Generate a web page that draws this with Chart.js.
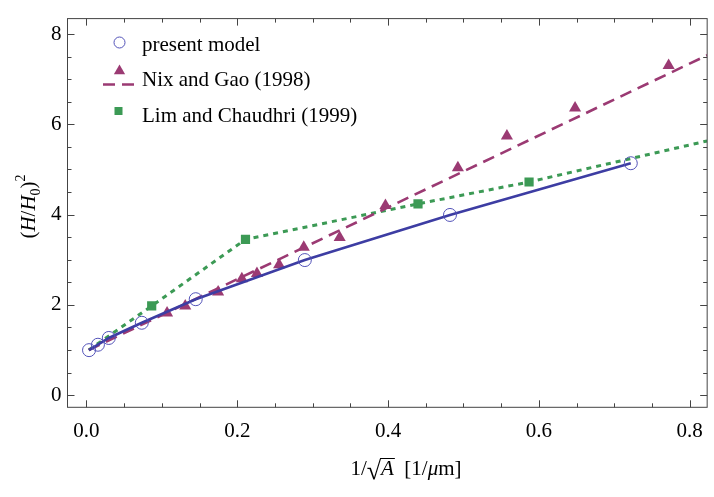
<!DOCTYPE html>
<html>
<head>
<meta charset="utf-8">
<script src="https://cdn.jsdelivr.net/npm/chart.js@4.4.1/dist/chart.umd.min.js"></script>
<style>
  html, body { margin: 0; padding: 0; overflow: hidden; background: #fff; }
  #wrap { width: 715px; height: 497px; }
</style>
</head>
<body>
<div id="wrap"><canvas id="hardnessChart"></canvas></div>
<script>
// values
const presentX = [0.0034, 0.0152, 0.0296, 0.0734, 0.1449, 0.2896, 0.4821, 0.7219];
const presentY = [0.996, 1.116, 1.266, 1.603, 2.125, 2.992, 3.992, 5.138];

const nixX = [0.1069, 0.131, 0.1746, 0.2061, 0.2261, 0.2555, 0.2882, 0.3358, 0.3965, 0.4926, 0.5576, 0.648, 0.7721];
const nixY = [1.818, 1.975, 2.284, 2.576, 2.692, 2.891, 3.278, 3.492, 4.2, 5.038, 5.739, 6.362, 7.306];
const nixFitX = [0.003, 0.8232];
const nixFitY = [1.0, 7.53];

const limX = [0.0865, 0.2109, 0.4397, 0.587];
const limY = [1.975, 3.449, 4.237, 4.722];
const limFitX = [0.003, 0.0865, 0.2109, 0.4397, 0.587, 0.8232];
const limFitY = [1.0, 1.975, 3.449, 4.237, 4.722, 5.632];

const xTicks = [0, 0.2, 0.4, 0.6, 0.8];
const yTicks = [0, 2, 4, 6, 8];

const BLUE = '#3d3da3';
const PURPLE = '#9b3a73';
const GREEN = '#3c9a55';
const SERIF = '"Liberation Serif", "DejaVu Serif", serif';

const pts = (xs, ys) => xs.map((x, i) => ({ x, y: ys[i] }));

// frame, inward ticks on all four sides, legend and axis titles
const decorations = {
  id: 'decorations',
  afterDatasetsDraw(chart) {
    const { ctx, chartArea: a, scales: { x, y } } = chart;
    ctx.save();
    ctx.strokeStyle = '#444';
    ctx.lineWidth = 1;
    ctx.strokeRect(a.left, a.top, a.right - a.left, a.bottom - a.top);

    ctx.beginPath();
    for (let i = 0; i <= 16; i++) {
      const v = i * 0.05;
      const px = Math.round(x.getPixelForValue(v)) + 0.5;
      const len = i % 4 === 0 ? 7 : 4;
      ctx.moveTo(px, a.bottom); ctx.lineTo(px, a.bottom - len);
      ctx.moveTo(px, a.top); ctx.lineTo(px, a.top + len);
    }
    for (let i = 0; i <= 16; i++) {
      const v = i * 0.5;
      const py = Math.round(y.getPixelForValue(v)) + 0.5;
      const len = i % 4 === 0 ? 7 : 4;
      ctx.moveTo(a.left, py); ctx.lineTo(a.left + len, py);
      ctx.moveTo(a.right, py); ctx.lineTo(a.right - len, py);
    }
    ctx.stroke();

    // legend
    ctx.lineWidth = 1;
    ctx.strokeStyle = '#5252b8';
    ctx.beginPath();
    ctx.arc(119.5, 42.5, 5.5, 0, Math.PI * 2);
    ctx.stroke();
    ctx.fillStyle = PURPLE;
    ctx.strokeStyle = PURPLE;
    Chart.helpers.drawPoint(ctx, { pointStyle: 'triangle', radius: 6.5, borderWidth: 0 }, 119.5, 71);
    ctx.lineWidth = 2.5;
    ctx.beginPath();
    ctx.moveTo(103, 84.5); ctx.lineTo(115, 84.5);
    ctx.moveTo(122, 84.5); ctx.lineTo(134, 84.5);
    ctx.stroke();
    ctx.fillStyle = GREEN;
    ctx.fillRect(114.5, 107, 8, 8);

    ctx.fillStyle = '#000';
    ctx.font = '21px ' + SERIF;
    ctx.textBaseline = 'alphabetic';
    ctx.textAlign = 'left';
    ctx.fillText('present model', 142, 51);
    ctx.fillText('Nix and Gao (1998)', 142, 86);
    ctx.fillText('Lim and Chaudhri (1999)', 142, 121.5);

    // x title: 1/sqrt(A) [1/um]
    const size = 21;
    const reg = size + 'px ' + SERIF;
    const ita = 'italic ' + size + 'px ' + SERIF;
    const rad = '26px ' + SERIF;
    const runs = [
      { t: '1/', f: reg, dy: 0 }, { t: '\u221A', f: rad, dy: 4 }, { t: 'A', f: ita, dy: 0, bar: true },
      { t: '  [1/', f: reg, dy: 0 }, { t: '\u03BC', f: ita, dy: 0 }, { t: 'm]', f: reg, dy: 0 }
    ];
    let total = 0;
    runs.forEach(r => { ctx.font = r.f; r.w = ctx.measureText(r.t).width; total += r.w; });
    let cx = 406 - total / 2;
    const base = 475;
    runs.forEach(r => {
      ctx.font = r.f;
      ctx.fillText(r.t, cx, base + r.dy);
      if (r.bar) {
        ctx.strokeStyle = '#000';
        ctx.lineWidth = 1;
        ctx.beginPath();
        ctx.moveTo(cx - 1, base - 16.5);
        ctx.lineTo(cx + r.w + 1, base - 16.5);
        ctx.stroke();
      }
      cx += r.w;
    });

    // y title: (H/H0)^2
    const small = Math.round(size * 0.68) + 'px ' + SERIF;
    const yr = [
      { t: '(', f: reg, dy: 0 }, { t: 'H', f: ita, dy: 0 }, { t: '/', f: reg, dy: 0 },
      { t: 'H', f: ita, dy: 0 }, { t: '0', f: small, dy: 5 }, { t: ')', f: reg, dy: 0 },
      { t: '2', f: small, dy: -10 }
    ];
    total = 0;
    yr.forEach(r => { ctx.font = r.f; r.w = ctx.measureText(r.t).width; total += r.w; });
    ctx.translate(34.5, 206.5);
    ctx.rotate(-Math.PI / 2);
    cx = -total / 2;
    yr.forEach(r => {
      ctx.font = r.f;
      ctx.fillText(r.t, cx, r.dy);
      cx += r.w;
    });
    ctx.restore();
  }
};

new Chart(document.getElementById('hardnessChart'), {
  type: 'scatter',
  data: {
    datasets: [
      {
        label: 'present model',
        data: pts(presentX, presentY),
        showLine: true,
        borderColor: BLUE,
        borderWidth: 2.6,
        pointStyle: 'circle',
        pointRadius: 6.5,
        pointBorderWidth: 1,
        pointBorderColor: '#5252b8',
        pointBackgroundColor: 'rgba(0,0,0,0)'
      },
      {
        label: 'Nix and Gao (1998)',
        data: pts(nixX, nixY),
        pointStyle: 'triangle',
        pointRadius: 7,
        pointBorderWidth: 0,
        pointBackgroundColor: PURPLE,
        pointBorderColor: PURPLE
      },
      {
        label: 'Nix fit',
        data: pts(nixFitX, nixFitY),
        showLine: true,
        borderColor: PURPLE,
        borderWidth: 2.6,
        borderDash: [12, 7],
        pointRadius: 0
      },
      {
        label: 'Lim and Chaudhri (1999)',
        data: pts(limX, limY),
        pointStyle: 'rect',
        pointRadius: 6.5,
        pointBorderWidth: 0,
        pointBackgroundColor: GREEN,
        pointBorderColor: GREEN
      },
      {
        label: 'Lim fit',
        data: pts(limFitX, limFitY),
        showLine: true,
        borderColor: GREEN,
        borderWidth: 3,
        borderDash: [5, 5],
        pointRadius: 0
      }
    ]
  },
  options: {
    responsive: true,
    maintainAspectRatio: false,
    animation: false,
    layout: { padding: { top: 6, right: 0, bottom: 0, left: 0 } },
    plugins: { legend: { display: false }, tooltip: { enabled: false } },
    scales: {
      x: {
        type: 'linear',
        min: -0.02516,
        max: 0.8232,
        afterBuildTicks: s => { s.ticks = xTicks.map(v => ({ value: v })); },
        afterFit: s => { s.height = 89.7; },
        grid: { display: false, drawTicks: false },
        border: { display: false },
        ticks: {
          padding: 12,
          color: '#000',
          font: { family: SERIF, size: 21 },
          callback: v => v.toFixed(1)
        }
      },
      y: {
        type: 'linear',
        min: -0.2704,
        max: 8.343,
        afterBuildTicks: s => { s.ticks = yTicks.map(v => ({ value: v })); },
        afterFit: s => { s.width = 67.5; },
        grid: { display: false, drawTicks: false },
        border: { display: false },
        ticks: {
          padding: 6,
          color: '#000',
          font: { family: SERIF, size: 21 },
          callback: v => String(v)
        }
      }
    }
  },
  plugins: [decorations]
});
</script>
</body>
</html>
